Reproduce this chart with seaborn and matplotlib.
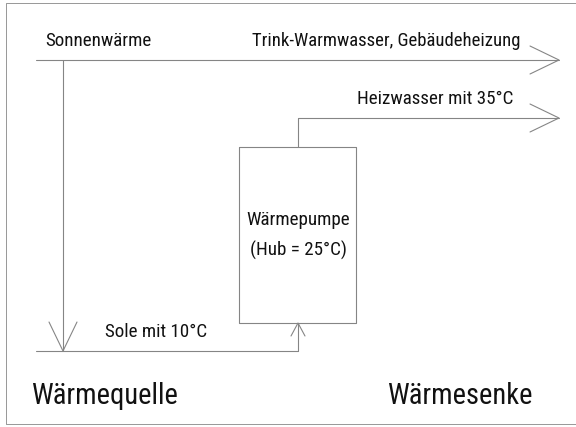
import matplotlib
matplotlib.use("Agg")
import matplotlib.pyplot as plt
import seaborn as sns
import pandas as pd

sns.set_theme(style="white")
plt.rcParams['font.family'] = ['Roboto Condensed', 'DejaVu Sans']

# Flow paths (diagram coordinates, pixel units, y downward)
path_names = ["solar_top", "solar_down", "sole", "pump_in", "heiz_out"]
path_x = [[36, 559], [63, 63], [36, 298], [298, 298], [298, 298, 559]]
path_y = [[60, 60], [60, 351], [351, 351], [351, 323], [147, 118, 118]]

# Arrow heads: tip position, direction, length, half-width
head_tip_x = [559, 559, 63, 298]
head_tip_y = [60, 118, 351, 323]
head_dir = ["right", "right", "down", "up"]
head_len = [29, 29, 29, 13]
head_half = [14, 14, 14, 7]

# Box (Wärmepumpe)
box_x = [239, 356]
box_y = [147, 323]

labels = ["Sonnenwärme", "Trink-Warmwasser, Gebäudeheizung", "Heizwasser mit 35°C",
          "Wärmepumpe", "(Hub = 25°C)", "Sole mit 10°C", "Wärmequelle", "Wärmesenke"]
label_x = [45, 252, 357, 298, 298, 105, 31, 387]
label_y = [46, 46, 104, 225, 256, 337, 404, 404]
label_ha = ["left", "left", "left", "center", "center", "left", "left", "left"]
label_size = [19, 18.7, 19, 19, 19, 19, 28.5, 28.5]

LINE = "#858585"

fig = plt.figure(figsize=(576 / 72, 427 / 72), dpi=72)
ax = fig.add_axes([0, 0, 1, 1])

rows = []
for name, xs, ys in zip(path_names, path_x, path_y):
    for i, (x, y) in enumerate(zip(xs, ys)):
        rows.append({"seg": name, "order": i, "x": x, "y": y})

for tx, ty, d, L, h in zip(head_tip_x, head_tip_y, head_dir, head_len, head_half):
    if d == "right":
        pts = [(tx - L, ty - h), (tx, ty), (tx - L, ty + h)]
    elif d == "down":
        pts = [(tx - h, ty - L), (tx, ty), (tx + h, ty - L)]
    else:
        pts = [(tx - h, ty + L), (tx, ty), (tx + h, ty + L)]
    name = f"head_{tx}_{ty}"
    for i, (x, y) in enumerate(pts):
        rows.append({"seg": name, "order": i, "x": x, "y": y})

bx = [box_x[0], box_x[1], box_x[1], box_x[0], box_x[0]]
by = [box_y[0], box_y[0], box_y[1], box_y[1], box_y[0]]
for i, (x, y) in enumerate(zip(bx, by)):
    rows.append({"seg": "box", "order": i, "x": x, "y": y})

df = pd.DataFrame(rows)
sns.lineplot(data=df, x="x", y="y", units="seg", estimator=None, sort=False,
             color=LINE, linewidth=1.1, ax=ax, legend=False)

# outer frame (left, top, bottom)
frame = pd.DataFrame({"x": [576, 6, 6, 576], "y": [3, 3, 424, 424], "seg": ["f"] * 4})
sns.lineplot(data=frame, x="x", y="y", units="seg", estimator=None, sort=False,
             color="#9a9a9a", linewidth=1.0, ax=ax, legend=False)

for t, x, y, ha, s in zip(labels, label_x, label_y, label_ha, label_size):
    ax.text(x, y, t, ha=ha, va="baseline", fontsize=s, color="#111111")

ax.set_xlim(0, 576)
ax.set_ylim(427, 0)
ax.axis("off")
fig.savefig("out.png", dpi=72, facecolor="white")
